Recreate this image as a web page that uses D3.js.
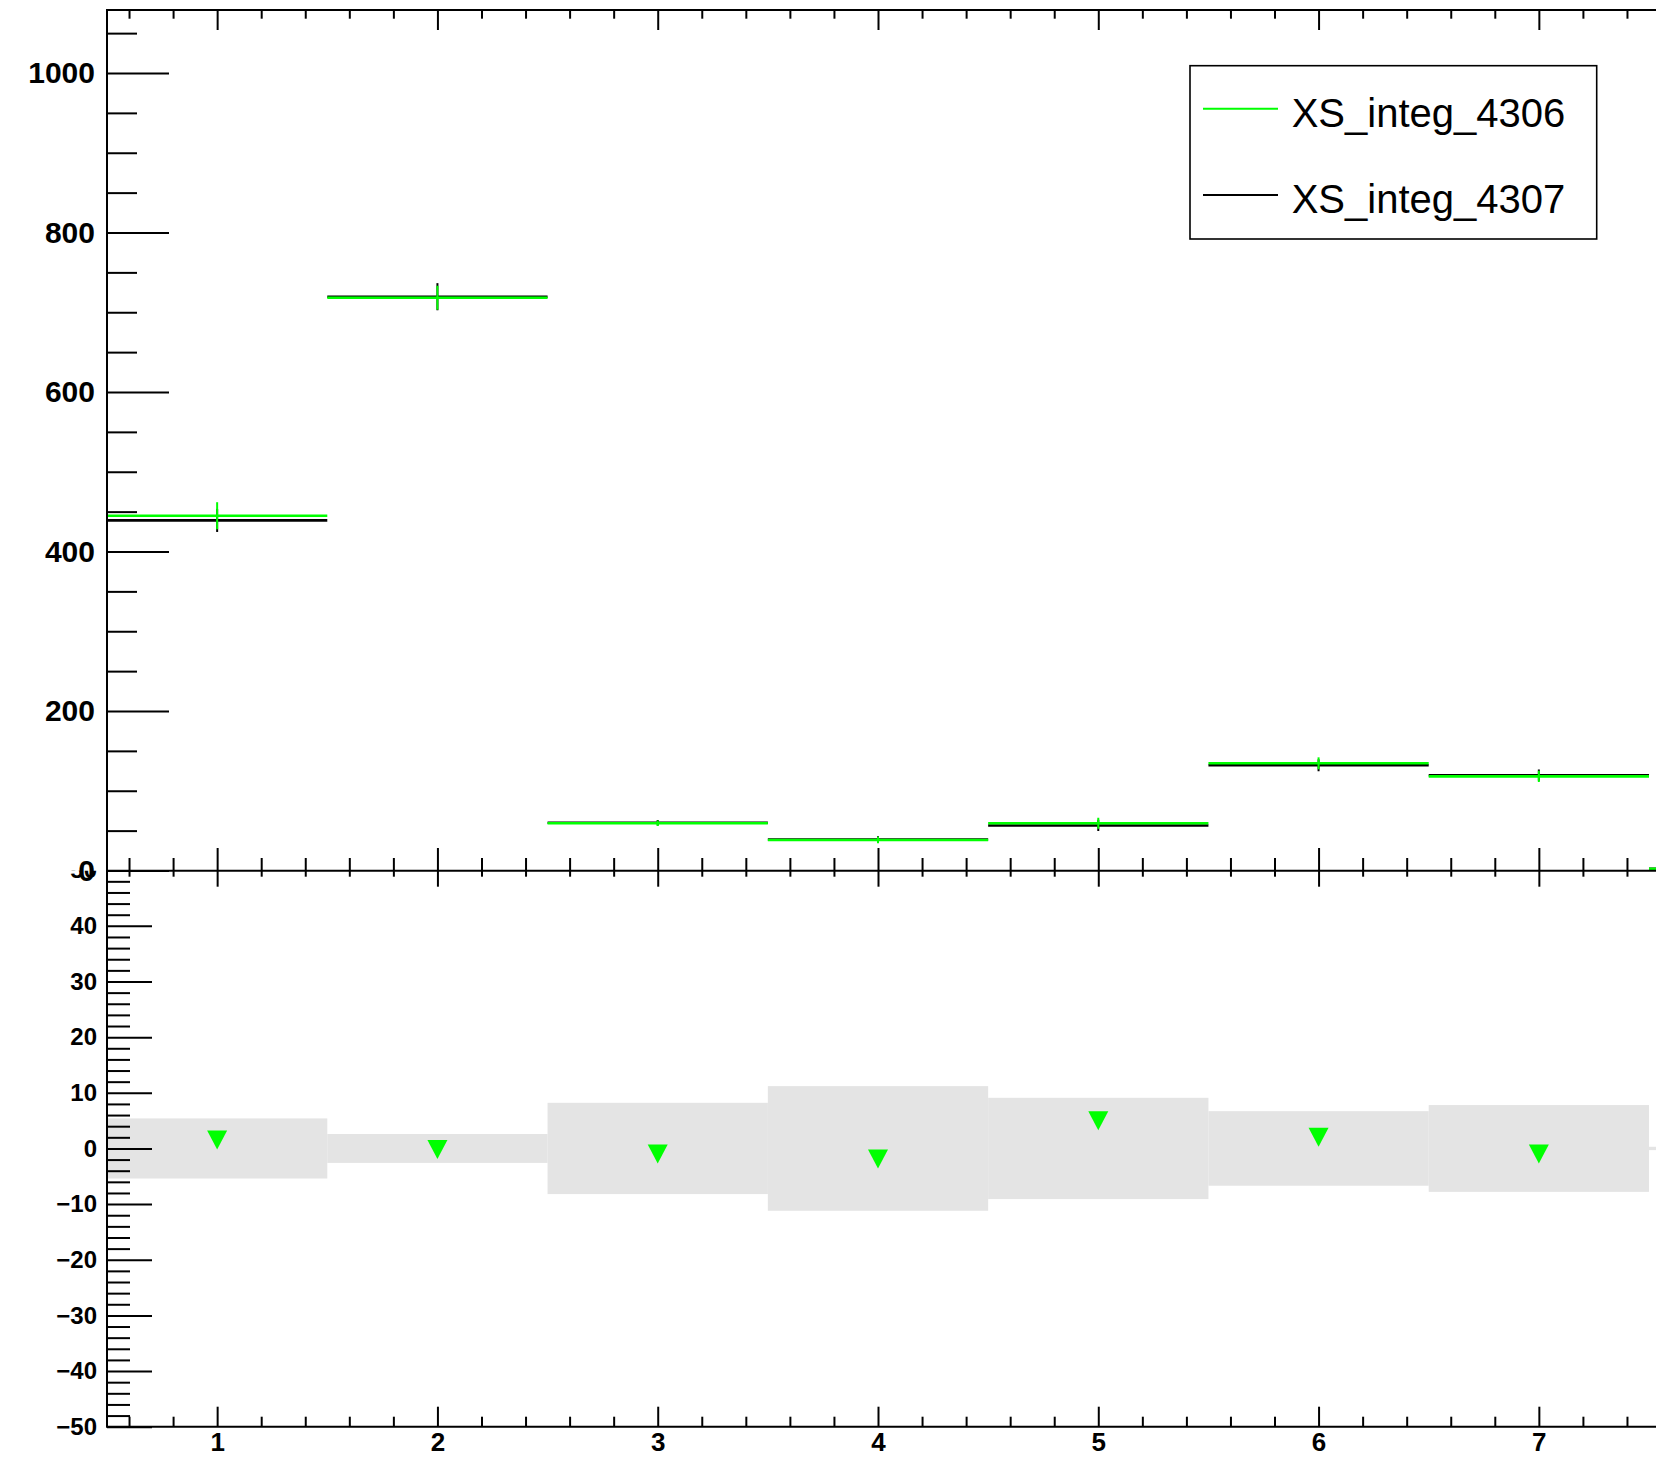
<!DOCTYPE html>
<html>
<head>
<meta charset="utf-8">
<script src="https://cdn.jsdelivr.net/npm/d3@7"></script>
<style>
  html, body { margin: 0; padding: 0; background: #fff; }
  svg { display: block; }
  text { font-family: "Liberation Sans", Arial, Helvetica, sans-serif; }
</style>
</head>
<body>
<svg id="chart" width="1676" height="1458"></svg>
<script>
// Bin centres (bins are one unit wide; the 8th bin is only partly inside the frame)
const bins = [1, 2, 3, 4, 5, 6, 7, 8];

// XS_integ_4306 (green) and XS_integ_4307 (black): contents and errors per bin
const xs4306 = [444.8, 718.2, 59.2, 38.2, 59.3, 134.4, 118.0, 2];
const xs4306Err = [17, 15, 3.5, 4, 7, 7.5, 7, 0];
const xs4307 = [439.0, 719.5, 59.8, 38.9, 56.5, 131.9, 119.5, 2];
const xs4307Err = [14.5, 17, 3.5, 4, 7, 7.5, 7, 0];

// Lower pad: relative difference per bin (%) and the half-height of the grey uncertainty band
const relDiff = [1.5, -0.2, -1.0, -1.9, 5.0, 2.0, -1.0];
const bandHalf = [5.4, 2.6, 8.2, 11.2, 9.1, 6.7, 7.8, 0.3];

// Tick labels
const upperYTicks = [0, 200, 400, 600, 800, 1000];
const lowerYTicks = [-50, -40, -30, -20, -10, 0, 10, 20, 30, 40, 50];
const xTicks = [1, 2, 3, 4, 5, 6, 7];

const legendEntries = [
  { label: "XS_integ_4306", color: "#00ff00" },
  { label: "XS_integ_4307", color: "#000000" }
];

const GREEN = "#00ff00";
const BAND = "#e4e4e4";

const svg = d3.select("#chart");

// Frame geometry
const left = 107, right = 1656;
const topY = 10, midY = 870.7, bottomY = 1426.7;

const x = d3.scaleLinear().domain([0.5, 7.5 + (right - 1649) / 220.2]).range([left, right]);
const yUp = d3.scaleLinear().domain([0, 1079]).range([870.5, topY]);
const yLo = d3.scaleLinear().domain([-50, 50]).range([bottomY, 870.2]);

const defs = svg.append("defs");
defs.append("clipPath").attr("id", "clipUp")
  .append("rect").attr("x", left).attr("y", topY).attr("width", right - left).attr("height", midY - topY);
defs.append("clipPath").attr("id", "clipLo")
  .append("rect").attr("x", left).attr("y", midY).attr("width", right - left).attr("height", bottomY - midY);
defs.append("clipPath").attr("id", "clipLoAxis")
  .append("rect").attr("x", 0).attr("y", midY).attr("width", 1676).attr("height", 1458 - midY);

// ---------- lower pad: uncertainty band and difference markers ----------
const lower = svg.append("g").attr("clip-path", "url(#clipLo)");
lower.selectAll("rect.band").data(bins).join("rect")
  .attr("class", "band")
  .attr("x", d => x(d - 0.5))
  .attr("width", d => x(d + 0.5) - x(d - 0.5))
  .attr("y", (d, i) => yLo(bandHalf[i]))
  .attr("height", (d, i) => yLo(-bandHalf[i]) - yLo(bandHalf[i]))
  .attr("fill", BAND);

const tri = 10; // half-size of the triangle marker, px
lower.selectAll("path.marker").data(relDiff).join("path")
  .attr("class", "marker")
  .attr("d", (v, i) => {
    const cx = x(bins[i]), cy = yLo(v);
    return `M${cx - tri},${cy - tri * 0.95}L${cx + tri},${cy - tri * 0.95}L${cx},${cy + tri * 0.95}Z`;
  })
  .attr("fill", GREEN);

// ---------- upper pad: the two histograms ----------
const upper = svg.append("g").attr("clip-path", "url(#clipUp)");
function drawHist(values, errs, color) {
  const g = upper.append("g");
  g.selectAll("line.bin").data(values).join("line")
    .attr("x1", (v, i) => x(bins[i] - 0.5))
    .attr("x2", (v, i) => x(bins[i] + 0.5))
    .attr("y1", v => yUp(v)).attr("y2", v => yUp(v))
    .attr("stroke", color).attr("stroke-width", 2.6);
  g.selectAll("line.err").data(values).join("line")
    .attr("x1", (v, i) => x(bins[i])).attr("x2", (v, i) => x(bins[i]))
    .attr("y1", (v, i) => yUp(v + errs[i]))
    .attr("y2", (v, i) => yUp(v - errs[i]))
    .attr("stroke", color).attr("stroke-width", 2);
}
drawHist(xs4307, xs4307Err, "#000");
drawHist(xs4306, xs4306Err, GREEN);

// ---------- axes ----------
function styleAxis(g) {
  g.selectAll("path.domain").remove();
  g.selectAll("line").attr("stroke", "#000").attr("stroke-width", 2);
}
function range(a, b, step) {
  const out = [];
  for (let v = a; v <= b + 1e-9; v += step) out.push(Math.round(v * 1000) / 1000);
  return out;
}
const xMinor = range(0.6, 7.4, 0.2).filter(v => Math.abs(v - Math.round(v)) > 1e-6);
const upperMinor = range(50, 1050, 50).filter(v => v % 200 !== 0);
const lowerMinor = range(-48, 48, 2).filter(v => v % 10 !== 0);

// upper y axis
svg.append("g").attr("transform", `translate(${left},0)`)
  .call(d3.axisLeft(yUp).tickValues(upperYTicks).tickSizeInner(-62).tickSizeOuter(0).tickPadding(12)
    .tickFormat(d => String(d)))
  .call(styleAxis)
  .call(g => g.selectAll("text").attr("font-size", 30).attr("font-weight", "bold").attr("fill", "#000"));
svg.append("g").attr("transform", `translate(${left},0)`)
  .call(d3.axisLeft(yUp).tickValues(upperMinor).tickSizeInner(-30).tickSizeOuter(0).tickFormat(""))
  .call(styleAxis);

// lower y axis (its top label is partly hidden behind the upper pad)
svg.append("g").attr("clip-path", "url(#clipLoAxis)")
  .append("g").attr("transform", `translate(${left},0)`)
  .call(d3.axisLeft(yLo).tickValues(lowerYTicks).tickSizeInner(-45).tickSizeOuter(0).tickPadding(10)
    .tickFormat(d => d < 0 ? "\u2212" + Math.abs(d) : String(d)))
  .call(styleAxis)
  .call(g => g.selectAll("text").attr("font-size", 24).attr("font-weight", "bold").attr("fill", "#000"));
svg.append("g").attr("transform", `translate(${left},0)`)
  .call(d3.axisLeft(yLo).tickValues(lowerMinor).tickSizeInner(-23).tickSizeOuter(0).tickFormat(""))
  .call(styleAxis);

// top frame ticks (pointing down into the upper pad)
svg.append("g").attr("transform", `translate(0,${topY})`)
  .call(d3.axisTop(x).tickValues(xTicks).tickSizeInner(-20).tickSizeOuter(0).tickFormat(""))
  .call(styleAxis);
svg.append("g").attr("transform", `translate(0,${topY})`)
  .call(d3.axisTop(x).tickValues(xMinor).tickSizeInner(-8.7).tickSizeOuter(0).tickFormat(""))
  .call(styleAxis);

// shared axis between the pads: ticks reach into both pads
svg.append("g").attr("transform", `translate(0,${midY})`)
  .call(d3.axisTop(x).tickValues(xTicks).tickSizeInner(22.7).tickSizeOuter(0).tickFormat(""))
  .call(styleAxis);
svg.append("g").attr("transform", `translate(0,${midY})`)
  .call(d3.axisBottom(x).tickValues(xTicks).tickSizeInner(16).tickSizeOuter(0).tickFormat(""))
  .call(styleAxis);
svg.append("g").attr("transform", `translate(0,${midY})`)
  .call(d3.axisTop(x).tickValues(xMinor).tickSizeInner(12.7).tickSizeOuter(0).tickFormat(""))
  .call(styleAxis);
svg.append("g").attr("transform", `translate(0,${midY})`)
  .call(d3.axisBottom(x).tickValues(xMinor).tickSizeInner(6).tickSizeOuter(0).tickFormat(""))
  .call(styleAxis);

// bottom x axis with labels
svg.append("g").attr("transform", `translate(0,${bottomY})`)
  .call(d3.axisBottom(x).tickValues(xTicks).tickSizeInner(-20).tickSizeOuter(0).tickPadding(6).tickFormat(d3.format("d")))
  .call(styleAxis)
  .call(g => g.selectAll("text").attr("font-size", 26).attr("font-weight", "bold").attr("fill", "#000"));
svg.append("g").attr("transform", `translate(0,${bottomY})`)
  .call(d3.axisBottom(x).tickValues(xMinor).tickSizeInner(-10).tickSizeOuter(0).tickFormat(""))
  .call(styleAxis);

// frame lines
const frame = svg.append("g").attr("stroke", "#000").attr("stroke-width", 2);
frame.append("line").attr("x1", left).attr("x2", left).attr("y1", topY - 1).attr("y2", bottomY + 1);
[topY, midY, bottomY].forEach(yy =>
  frame.append("line").attr("x1", left).attr("x2", right).attr("y1", yy).attr("y2", yy));

// ---------- legend ----------
const lg = svg.append("g");
lg.append("rect").attr("x", 1190).attr("y", 65.7).attr("width", 406.7).attr("height", 173.3)
  .attr("fill", "#fff").attr("stroke", "#000").attr("stroke-width", 1.6);
const rowLine = [108.7, 195], rowBase = [127, 213.3];
legendEntries.forEach((e, i) => {
  lg.append("line").attr("x1", 1203).attr("x2", 1278).attr("y1", rowLine[i]).attr("y2", rowLine[i])
    .attr("stroke", e.color).attr("stroke-width", 2);
  lg.append("text").attr("x", 1291.7).attr("y", rowBase[i]).attr("font-size", 40)
    .attr("fill", "#000").text(e.label);
});
</script>
</body>
</html>
